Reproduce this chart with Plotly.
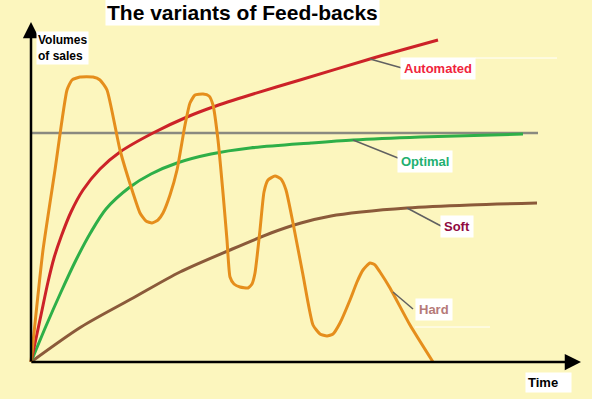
import plotly.graph_objects as go

# Curves (x = time units, y = sales volume units)
auto_x = [0, 10, 17, 23, 30, 40, 52, 69, 89, 122, 156, 182, 219, 269, 339, 407]
auto_y = [0, 47, 80, 104, 125, 150, 172, 193, 210, 229, 245, 255, 267, 282, 303, 322]

opt_x = [0, 15, 30, 45, 60, 75, 99, 120, 146, 180, 219, 280, 322, 389, 492]
opt_y = [0, 36, 70, 102, 130, 153, 175, 188, 199, 208, 214, 219, 222, 225, 228]

soft_x = [0, 50, 102, 149, 199, 240, 270, 300, 330, 376, 439, 506]
soft_y = [0, 35, 64, 90, 112, 129, 139, 146, 150, 154, 157, 159]

hard_x = [0, 12, 24, 36, 41, 49, 62, 69, 76, 89, 102, 109, 115, 121, 127, 132, 139,
          146, 154, 159, 164, 172, 178, 182, 187, 192, 196, 199, 203, 209, 217, 221,
          224, 229, 233, 237, 244, 250, 255, 262, 272, 282, 289, 296, 302, 309, 319,
          326, 332, 339, 344, 349, 359, 379, 402]
hard_y = [0, 112, 192, 272, 282, 285, 285, 282, 272, 212, 169, 149, 141, 139, 142,
          149, 167, 192, 237, 259, 267, 268, 266, 257, 222, 169, 122, 85, 78, 75, 74,
          78, 89, 132, 170, 182, 186, 183, 172, 139, 87, 37, 28, 26, 28, 39, 62, 80,
          92, 99, 97, 90, 74, 37, 0]

target_level = 229
target_x = [0, 507]

series_names = ["Automated", "Optimal", "Soft", "Hard"]

BG = "#FCF6BE"
fig = go.Figure()

fig.add_trace(go.Scatter(x=target_x, y=[target_level, target_level], mode="lines",
                         line=dict(color="#8A8A80", width=2.5), hoverinfo="skip"))
fig.add_trace(go.Scatter(x=soft_x, y=soft_y, mode="lines", line_shape="spline",
                         line=dict(color="#8B5A3A", width=3, smoothing=0.8), name="Soft"))
fig.add_trace(go.Scatter(x=opt_x, y=opt_y, mode="lines", line_shape="spline",
                         line=dict(color="#2EAF48", width=3, smoothing=0.8), name="Optimal"))
fig.add_trace(go.Scatter(x=auto_x, y=auto_y, mode="lines", line_shape="spline",
                         line=dict(color="#CC2228", width=3, smoothing=0.8), name="Automated"))
fig.add_trace(go.Scatter(x=hard_x, y=hard_y, mode="lines", line_shape="spline",
                         line=dict(color="#E58E1C", width=3, smoothing=0.5), name="Hard"))

# Axes with arrows
fig.add_annotation(x=0, y=340, ax=0, ay=-1, axref="x", ayref="y", xref="x", yref="y",
                   text="", showarrow=True, arrowhead=2, arrowsize=1.3, arrowwidth=2.5,
                   arrowcolor="black")
fig.add_annotation(x=550, y=0, ax=-1, ay=0, axref="x", ayref="y", xref="x", yref="y",
                   text="", showarrow=True, arrowhead=2, arrowsize=1.3, arrowwidth=2.5,
                   arrowcolor="black")

font = "Liberation Sans, Arial, sans-serif"

# Title
fig.add_annotation(x=211, y=350, xref="x", yref="y", showarrow=False,
                   text="<b>The variants of Feed-backs</b>", bgcolor="white",
                   font=dict(family=font, size=21, color="black"), borderpad=1)
fig.add_annotation(x=31, y=314, xref="x", yref="y", showarrow=False,
                   text="<b>Volumes<br>of sales</b>", bgcolor="white", align="left",
                   font=dict(family=font, size=12, color="black"), borderpad=1)
fig.add_annotation(x=517, y=-20, xref="x", yref="y", showarrow=False,
                   text="<b>Time</b>   ", bgcolor="white", align="left",
                   font=dict(family=font, size=13, color="black"), borderpad=2)

labels = [
    ("Automated", 407, 294, "#F0243C", (339, 303), (371, 294)),
    ("Optimal", 394, 201, "#22B070", (322, 222), (367, 204)),
    ("Soft", 426, 136, "#900A40", (376, 154), (410, 136)),
    ("Hard", 403, 53, "#B57A78", (362, 70), (382, 53)),
]
for txt, lx, ly, col, p0, p1 in labels:
    fig.add_shape(type="line", x0=p0[0], y0=p0[1], x1=p1[0], y1=p1[1],
                  line=dict(color="#606060", width=1.5), xref="x", yref="y")
    fig.add_annotation(x=lx, y=ly, xref="x", yref="y", showarrow=False,
                       text=f"<b>{txt}</b>", bgcolor="white",
                       font=dict(family=font, size=13, color=col), borderpad=3)

# faint white guide lines
for x0, x1, yy in [(444, 526, 304), (384, 459, 35)]:
    fig.add_shape(type="line", x0=x0, x1=x1, y0=yy, y1=yy,
                  line=dict(color="white", width=1), xref="x", yref="y")

fig.update_layout(
    width=592, height=399, margin=dict(l=0, r=0, t=0, b=0, pad=0, autoexpand=False),
    paper_bgcolor=BG, plot_bgcolor=BG, showlegend=False,
    xaxis=dict(range=[-31, 561], visible=False, fixedrange=True),
    yaxis=dict(range=[-37, 362], visible=False, fixedrange=True),
)

fig.write_html("out.html", config={"displayModeBar": False},
               post_script="document.body.style.margin='0px';"
                           "document.body.style.background='" + BG + "';")
